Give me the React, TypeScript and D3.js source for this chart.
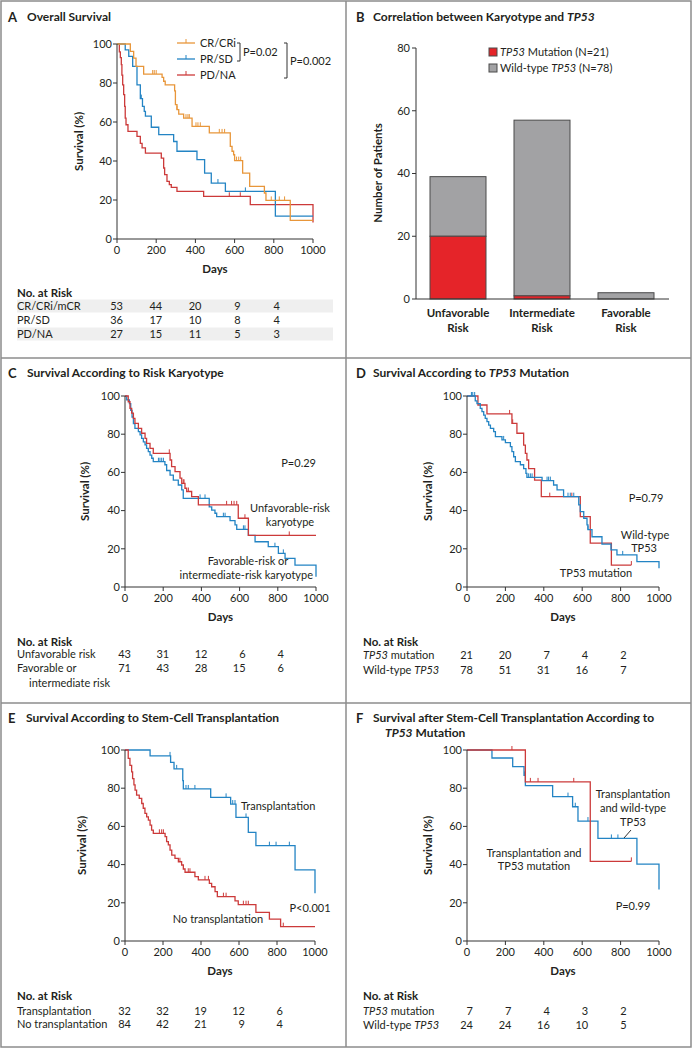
import React from 'react';
import * as d3 from 'd3';

const FONT = "Lato, 'Open Sans', sans-serif";
const ORANGE = '#e8963a';
const BLUE = '#2384c4';
const RED = '#cc3a3a';
const TXT = '#231f20';
const FRAME = '#8c8c8c';

const DAY_TICKS = [0, 200, 400, 600, 800, 1000];
const SURV_TICKS = [0, 20, 40, 60, 80, 100];
const RISK_DAYS = [0, 200, 400, 600, 800];

// ---------- Panel A ----------
const crTimes = [0, 68, 85, 97, 136, 230, 238, 246, 294, 298, 306, 315, 340, 383, 471, 578, 587, 595, 600, 641, 677, 752, 760, 884, 1000];
const crSurv = [100, 96.2, 92.8, 88.5, 84.6, 82.9, 80.9, 79, 76, 68.9, 66.3, 64, 62, 57.8, 54.4, 47.5, 45, 43.2, 40.2, 33.8, 27, 23.6, 19.8, 9.6, 9.6];
const crCensor = [182, 190, 200, 306, 352, 362, 369, 403, 413, 425, 522, 536, 549, 610, 621, 631, 787, 828, 855];
const prTimes = [0, 42, 60, 80, 102, 119, 130, 139, 145, 175, 213, 289, 306, 408, 447, 481, 553, 808, 1000];
const prSurv = [100, 97, 93.7, 88.5, 79, 72, 68, 65.5, 63, 57.3, 53.5, 50, 45, 40.7, 33.8, 28.7, 24.4, 11.7, 11.7];
const prCensor = [124, 515, 655];
const pdTimes = [0, 12, 17, 22, 25, 29, 34, 39, 42, 46, 56, 102, 119, 128, 145, 226, 238, 243, 255, 267, 277, 306, 442, 680, 1000];
const pdSurv = [100, 96, 93, 89.4, 84, 79, 74, 68, 62, 58.6, 55.2, 52.6, 49, 46.7, 44, 41.5, 36.4, 33, 29.6, 27.9, 26.5, 24.4, 21.9, 17.6, 8.5];
const pdCensor = [573, 629];
const riskA_cr = [53, 44, 20, 9, 4];
const riskA_pr = [36, 17, 10, 8, 4];
const riskA_pd = [27, 15, 11, 5, 3];

// ---------- Panel B ----------
const bCategories = ['Unfavorable', 'Intermediate', 'Favorable'];
const bMutation = [20, 1, 0];
const bWildType = [19, 56, 2];
const bYTicks = [0, 20, 40, 60, 80];

// ---------- Panel C ----------
const unfTimes = [0, 17, 26, 35, 44, 52, 70, 87, 105, 113, 131, 148, 236, 244, 262, 288, 297, 314, 323, 349, 384, 593, 646, 1000];
const unfSurv = [100, 97, 93.5, 91, 88.3, 85.7, 83, 80.5, 77.8, 75.2, 72.6, 70, 66.5, 63, 60.4, 57, 54.3, 51.7, 50, 47.3, 43, 36, 27, 27];
const unfCensor = [232, 305, 309, 332, 532, 558, 571, 585, 628, 860];
const favTimes = [0, 9, 23, 30, 37, 44, 52, 70, 79, 87, 96, 105, 113, 122, 131, 140, 148, 209, 218, 236, 253, 279, 297, 305, 441, 454, 471, 480, 550, 576, 585, 646, 681, 750, 803, 838, 890, 1000];
const favSurv = [100, 98, 96, 92.5, 89, 85.5, 83, 81.3, 79.6, 77.8, 76, 74.4, 72.6, 70.9, 69, 67.4, 65.6, 64, 61, 58.6, 56, 53.4, 50.8, 46.4, 42, 40.3, 38.6, 36.8, 34.7, 32.5, 30.2, 27, 23.7, 21.1, 17.6, 15, 11.5, 5.4];
const favCensor = [175, 183, 192, 201, 393, 419, 515, 524, 620, 628, 785, 829];
const riskC_unf = [43, 31, 12, 6, 4];
const riskC_fav = [71, 43, 28, 15, 6];

// ---------- Panel D ----------
const mutTimes = [0, 57, 104, 234, 260, 295, 304, 312, 321, 352, 387, 590, 642, 752, 856];
const mutSurv = [100, 95.3, 90.6, 85.7, 80.5, 74.3, 70, 66.5, 62, 56, 47.3, 36.8, 23, 11.5, 11.5];
const mutCensor = [222, 238, 431, 546, 856];
const wtTimes = [0, 43, 52, 69, 78, 87, 95, 104, 113, 122, 139, 148, 182, 200, 226, 234, 243, 252, 278, 295, 307, 312, 391, 451, 469, 503, 582, 590, 608, 625, 630, 651, 703, 750, 781, 885, 1000];
const wtSurv = [100, 97.5, 96, 93.5, 91.8, 90, 88.3, 86.6, 84.8, 83, 81.3, 78.7, 77, 75.6, 73.5, 70.9, 68.2, 65.6, 64, 62, 59.5, 57.4, 55.7, 53.4, 50.8, 47.3, 43, 39.5, 36, 32.5, 30, 26.3, 22.5, 19.4, 16.8, 13.3, 9.8];
const wtCensor = [23, 30, 40, 191, 321, 330, 339, 417, 425, 434, 526, 538, 556, 630, 811];
const riskD_mut = [21, 20, 7, 4, 2];
const riskD_wt = [78, 51, 31, 16, 7];

// ---------- Panel E ----------
const txTimes = [0, 132, 240, 258, 304, 307, 451, 556, 584, 649, 689, 895, 1000];
const txSurv = [100, 96.9, 93.5, 90.1, 84, 79.6, 75.2, 71.7, 64.7, 56.9, 49.9, 37.2, 25];
const txCensor = [237, 272, 321, 333, 368, 532, 567, 579, 637, 760, 795, 865];
const noTxTimes = [0, 17, 26, 35, 40, 47, 53, 61, 75, 88, 96, 105, 114, 123, 132, 140, 149, 211, 219, 228, 237, 246, 263, 281, 298, 307, 316, 368, 386, 444, 456, 474, 486, 579, 596, 689, 760, 819, 1000];
const noTxSurv = [100, 95.6, 92, 88.5, 85, 81.7, 79, 76.4, 74.7, 72, 69.5, 66.8, 65, 63.3, 60.7, 58, 56.4, 54.6, 52, 50.3, 47.6, 45, 43.3, 41.5, 39.8, 37.7, 36, 33.7, 32, 30.2, 28.4, 25.8, 23.2, 21, 19, 15, 11.5, 7.5, 7.5];
const noTxCensor = [181, 193, 202, 289, 333, 342, 421, 439, 518, 532, 623, 637, 649, 833];
const riskE_tx = [32, 32, 19, 12, 6];
const riskE_no = [84, 42, 21, 9, 4];

// ---------- Panel F ----------
const fMutTimes = [0, 304, 642, 856];
const fMutSurv = [100, 83.3, 41.7, 41.7];
const fMutCensor = [234, 330, 370, 556, 856];
const fWtTimes = [0, 130, 238, 297, 304, 446, 550, 578, 682, 885, 1000];
const fWtSurv = [100, 95.8, 91.3, 86.7, 81.3, 75.6, 70.3, 62.8, 53.7, 40.3, 26.9];
const fWtCensor = [300, 526, 564, 630, 752, 786];
const riskF_mut = [7, 7, 4, 3, 2];
const riskF_wt = [24, 24, 16, 10, 5];

type Curve = { t: number[]; s: number[]; censor: number[]; color: string };

const T = (p: any) => (
  <text fontFamily={FONT} fill={TXT} dy="0.35em" {...p}>{p.children}</text>
);

function survAt(c: Curve, day: number) {
  let v = c.s[0];
  for (let i = 0; i < c.t.length; i++) if (c.t[i] <= day) v = c.s[i];
  return v;
}

function KM({ x0, x1, yTop, yBot, curves, ylabX }: any) {
  const x = d3.scaleLinear().domain([0, 1000]).range([x0, x1]);
  const y = d3.scaleLinear().domain([0, 100]).range([yBot, yTop]);
  const line = d3.line<[number, number]>().x(d => x(d[0])).y(d => y(d[1])).curve(d3.curveStepAfter);
  return (
    <g>
      {curves.map((c: Curve, i: number) => (
        <g key={i}>
          <path d={line(c.t.map((t, j) => [t, c.s[j]] as [number, number])) || ''} fill="none" stroke={c.color} strokeWidth={1.3} />
          {c.censor.map((d, j) => {
            const yy = y(survAt(c, d));
            return <line key={j} x1={x(d)} x2={x(d)} y1={yy} y2={yy - 4} stroke={c.color} strokeWidth={1} />;
          })}
        </g>
      ))}
      <line x1={x0} x2={x0} y1={yBot} y2={yTop} stroke="#333" strokeWidth={1} />
      <line x1={x0} x2={x1} y1={yBot} y2={yBot} stroke="#333" strokeWidth={1} />
      {SURV_TICKS.map(v => (
        <g key={v}>
          <line x1={x0 - 4} x2={x0} y1={y(v)} y2={y(v)} stroke="#333" />
          <T x={x0 - 5} y={y(v)} textAnchor="end" fontSize={11}>{v}</T>
        </g>
      ))}
      {DAY_TICKS.map(v => (
        <g key={v}>
          <line x1={x(v)} x2={x(v)} y1={yBot} y2={yBot + 4} stroke="#333" />
          <T x={x(v)} y={yBot + 11} textAnchor="middle" fontSize={11}>{v}</T>
        </g>
      ))}
      <T x={(x0 + x1) / 2} y={yBot + 30} textAnchor="middle" fontSize={11.5} fontWeight="bold">Days</T>
      <T transform={`translate(${ylabX},${(yTop + yBot) / 2}) rotate(-90)`} textAnchor="middle" fontSize={11.5} fontWeight="bold">Survival (%)</T>
    </g>
  );
}

function Risk({ x0, x1, labelX, titleY, rows }: any) {
  const x = d3.scaleLinear().domain([0, 1000]).range([x0, x1]);
  return (
    <g>
      <T x={labelX} y={titleY} fontSize={11.5} fontWeight="bold">No. at Risk</T>
      {rows.map((r: any, i: number) => (
        <g key={i}>
          {r.band && <rect x={labelX} y={r.y - 6.5} width={r.bandW} height={13} fill="#efefef" />}
          <T x={labelX + (r.indent || 0)} y={r.y} fontSize={11}>{r.label}</T>
          {r.vals && r.vals.map((v: number, j: number) => (
            <T key={j} x={x(RISK_DAYS[j]) + 6} y={r.vy ?? r.y} textAnchor="end" fontSize={11}>{v}</T>
          ))}
        </g>
      ))}
    </g>
  );
}

function PanelB() {
  const xb = d3.scaleBand().domain(bCategories).range([416, 668]).paddingInner(1 / 3).paddingOuter(1 / 6);
  const y = d3.scaleLinear().domain([0, 80]).range([299, 48]);
  return (
    <g>
      <T x={356} y={17} fontSize={13} fontWeight="bold">B</T>
      <T x={373} y={17} fontSize={12} fontWeight="bold">Correlation between Karyotype and <tspan fontStyle="italic">TP53</tspan></T>
      {bCategories.map((c, i) => (
        <g key={c}>
          <rect x={xb(c)} y={y(bMutation[i] + bWildType[i])} width={xb.bandwidth()} height={y(bMutation[i]) - y(bMutation[i] + bWildType[i])} fill="#a2a2a4" stroke="#4a4a4a" strokeWidth={1} />
          {bMutation[i] > 0 && <rect x={xb(c)} y={y(bMutation[i])} width={xb.bandwidth()} height={y(0) - y(bMutation[i])} fill="#e52429" stroke="#4a4a4a" strokeWidth={1} />}
          <T x={(xb(c) || 0) + xb.bandwidth() / 2} y={313} textAnchor="middle" fontSize={11.5} fontWeight="bold">{c}</T>
          <T x={(xb(c) || 0) + xb.bandwidth() / 2} y={328} textAnchor="middle" fontSize={11.5} fontWeight="bold">Risk</T>
        </g>
      ))}
      <line x1={416} x2={416} y1={299} y2={48} stroke="#333" />
      <line x1={416} x2={669} y1={299} y2={299} stroke="#333" />
      {bYTicks.map(v => (
        <g key={v}>
          <line x1={412} x2={416} y1={y(v)} y2={y(v)} stroke="#333" />
          <T x={410} y={y(v)} textAnchor="end" fontSize={11}>{v}</T>
        </g>
      ))}
      <T transform={`translate(378,173) rotate(-90)`} textAnchor="middle" fontSize={11.5} fontWeight="bold">Number of Patients</T>
      <rect x={489} y={48} width={8} height={8} fill="#e52429" stroke="#4a4a4a" />
      <T x={500} y={52} fontSize={11}><tspan fontStyle="italic">TP53</tspan> Mutation (N=21)</T>
      <rect x={489} y={64} width={8} height={8} fill="#a2a2a4" stroke="#4a4a4a" />
      <T x={500} y={68} fontSize={11}>Wild-type <tspan fontStyle="italic">TP53</tspan> (N=78)</T>
    </g>
  );
}

export default function App() {
  const cA: Curve[] = [
    { t: pdTimes, s: pdSurv, censor: pdCensor, color: RED },
    { t: prTimes, s: prSurv, censor: prCensor, color: BLUE },
    { t: crTimes, s: crSurv, censor: crCensor, color: ORANGE },
  ];
  const cC: Curve[] = [
    { t: favTimes, s: favSurv, censor: favCensor, color: BLUE },
    { t: unfTimes, s: unfSurv, censor: unfCensor, color: RED },
  ];
  const cD: Curve[] = [
    { t: mutTimes, s: mutSurv, censor: mutCensor, color: RED },
    { t: wtTimes, s: wtSurv, censor: wtCensor, color: BLUE },
  ];
  const cE: Curve[] = [
    { t: txTimes, s: txSurv, censor: txCensor, color: BLUE },
    { t: noTxTimes, s: noTxSurv, censor: noTxCensor, color: RED },
  ];
  const cF: Curve[] = [
    { t: fWtTimes, s: fWtSurv, censor: fWtCensor, color: BLUE },
    { t: fMutTimes, s: fMutSurv, censor: fMutCensor, color: RED },
  ];
  const legA = [
    { label: 'CR/CRi', color: ORANGE, y: 43 },
    { label: 'PR/SD', color: BLUE, y: 59 },
    { label: 'PD/NA', color: RED, y: 75 },
  ];
  return (
    <svg width={692} height={1048} style={{ position: 'absolute', left: 0, top: 0, background: '#fff' }}>
      <rect x={1} y={1} width={690} height={1046} fill="#fff" stroke={FRAME} strokeWidth={1.5} />
      <line x1={346} x2={346} y1={1} y2={1047} stroke={FRAME} strokeWidth={1.5} />
      <line x1={1} x2={691} y1={358} y2={358} stroke={FRAME} strokeWidth={1.5} />
      <line x1={1} x2={691} y1={703} y2={703} stroke={FRAME} strokeWidth={1.5} />

      {/* Panel A */}
      <T x={8} y={17} fontSize={13} fontWeight="bold">A</T>
      <T x={27} y={17} fontSize={12} fontWeight="bold">Overall Survival</T>
      <KM x0={117} x1={313} yTop={44} yBot={239} curves={cA} ylabX={79} />
      {legA.map(l => (
        <g key={l.label}>
          <line x1={177} x2={195} y1={l.y} y2={l.y} stroke={l.color} strokeWidth={1.3} />
          <line x1={186} x2={186} y1={l.y} y2={l.y - 4} stroke={l.color} />
          <T x={200} y={l.y} fontSize={11}>{l.label}</T>
        </g>
      ))}
      <path d="M237,43 H240 V61 H237" fill="none" stroke="#333" />
      <T x={243} y={52} fontSize={11}>P=0.02</T>
      <path d="M284,43 H287 V78 H284" fill="none" stroke="#333" />
      <T x={290} y={61} fontSize={11}>P=0.002</T>
      <Risk x0={117} x1={313} labelX={17} titleY={293} rows={[
        { label: 'CR/CRi/mCR', vals: riskA_cr, y: 306, band: true, bandW: 316 },
        { label: 'PR/SD', vals: riskA_pr, y: 320 },
        { label: 'PD/NA', vals: riskA_pd, y: 334, band: true, bandW: 316 },
      ]} />

      <PanelB />

      {/* Panel C */}
      <T x={8} y={373} fontSize={13} fontWeight="bold">C</T>
      <T x={27} y={373} fontSize={12} fontWeight="bold">Survival According to Risk Karyotype</T>
      <KM x0={125} x1={316} yTop={396} yBot={587} curves={cC} ylabX={85} />
      <T x={316} y={463} textAnchor="end" fontSize={11}>P=0.29</T>
      <T x={290} y={508} textAnchor="middle" fontSize={11}>Unfavorable-risk</T>
      <T x={290} y={522} textAnchor="middle" fontSize={11}>karyotype</T>
      <T x={248} y={561} textAnchor="middle" fontSize={11}>Favorable-risk or</T>
      <T x={313} y={575} textAnchor="end" fontSize={11}>intermediate-risk karyotype</T>
      <Risk x0={125} x1={316} labelX={17} titleY={642} rows={[
        { label: 'Unfavorable risk', vals: riskC_unf, y: 654 },
        { label: 'Favorable or', vals: riskC_fav, y: 668 },
        { label: 'intermediate risk', y: 683, indent: 12 },
      ]} />

      {/* Panel D */}
      <T x={356} y={373} fontSize={13} fontWeight="bold">D</T>
      <T x={373} y={373} fontSize={12} fontWeight="bold">Survival According to <tspan fontStyle="italic">TP53</tspan> Mutation</T>
      <KM x0={467} x1={659} yTop={396} yBot={587} curves={cD} ylabX={428} />
      <T x={646} y={498} textAnchor="middle" fontSize={11}>P=0.79</T>
      <T x={645} y={535} textAnchor="middle" fontSize={11}>Wild-type</T>
      <T x={657} y={548} textAnchor="end" fontSize={11}>TP53</T>
      <T x={596} y={573} textAnchor="middle" fontSize={11}>TP53 mutation</T>
      <Risk x0={467} x1={659} labelX={363} titleY={642} rows={[
        { label: <><tspan fontStyle="italic">TP53</tspan> mutation</>, vals: riskD_mut, y: 655 },
        { label: <>Wild-type <tspan fontStyle="italic">TP53</tspan></>, vals: riskD_wt, y: 670 },
      ]} />

      {/* Panel E */}
      <T x={8} y={718} fontSize={13} fontWeight="bold">E</T>
      <T x={26} y={718} fontSize={12} fontWeight="bold">Survival According to Stem-Cell Transplantation</T>
      <KM x0={125} x1={315} yTop={750} yBot={941} curves={cE} ylabX={82} />
      <T x={241} y={806} fontSize={11}>Transplantation</T>
      <T x={310} y={908} textAnchor="middle" fontSize={11}>P&lt;0.001</T>
      <T x={218} y={919} textAnchor="middle" fontSize={11}>No transplantation</T>
      <Risk x0={125} x1={315} labelX={17} titleY={996} rows={[
        { label: 'Transplantation', vals: riskE_tx, y: 1011 },
        { label: 'No transplantation', vals: riskE_no, y: 1024 },
      ]} />

      {/* Panel F */}
      <T x={356} y={718} fontSize={13} fontWeight="bold">F</T>
      <T x={373} y={718} fontSize={12} fontWeight="bold">Survival after Stem-Cell Transplantation According to</T>
      <T x={385} y={733} fontSize={12} fontWeight="bold"><tspan fontStyle="italic">TP53</tspan> Mutation</T>
      <KM x0={467} x1={659} yTop={750} yBot={941} curves={cF} ylabX={428} />
      <T x={633} y={794} textAnchor="middle" fontSize={11}>Transplantation</T>
      <T x={633} y={808} textAnchor="middle" fontSize={11}>and wild-type</T>
      <T x={633} y={822} textAnchor="middle" fontSize={11}>TP53</T>
      <line x1={624} y1={838} x2={631} y2={830} stroke="#333" />
      <T x={534} y={853} textAnchor="middle" fontSize={11}>Transplantation and</T>
      <T x={534} y={866} textAnchor="middle" fontSize={11}>TP53 mutation</T>
      <T x={633} y={906} textAnchor="middle" fontSize={11}>P=0.99</T>
      <Risk x0={467} x1={659} labelX={363} titleY={996} rows={[
        { label: <><tspan fontStyle="italic">TP53</tspan> mutation</>, vals: riskF_mut, y: 1011 },
        { label: <>Wild-type <tspan fontStyle="italic">TP53</tspan></>, vals: riskF_wt, y: 1025 },
      ]} />
    </svg>
  );
}
